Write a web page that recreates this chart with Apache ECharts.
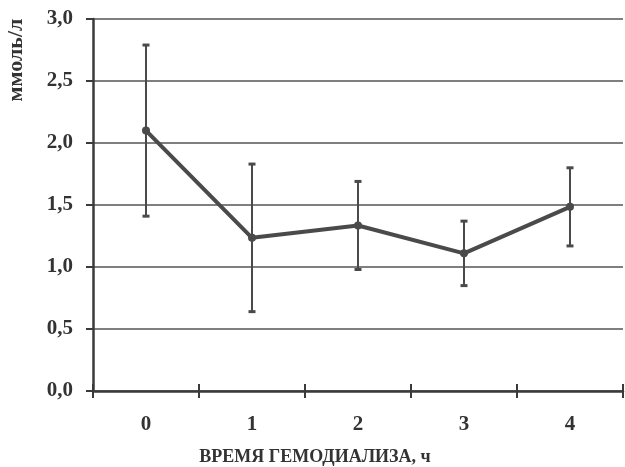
<!DOCTYPE html>
<html>
<head>
<meta charset="utf-8">
<script src="https://cdn.jsdelivr.net/npm/echarts@6/dist/echarts.min.js"></script>
<style>
  html, body { margin: 0; padding: 0; background: #ffffff; }
  #chart { width: 625px; height: 467px; }
</style>
</head>
<body>
<div id="chart"></div>
<script>
// Hours of haemodialysis
const hours = ['0', '1', '2', '3', '4'];
// Mean concentration, mmol/l
const meanValues = [2.10, 1.235, 1.335, 1.11, 1.485];
// Standard deviation, mmol/l
const sdValues = [0.69, 0.595, 0.355, 0.26, 0.315];
// Y axis ticks
const yTicks = [0, 0.5, 1.0, 1.5, 2.0, 2.5, 3.0];

const INK = '#3a3a3a';
const SERIF = '"Liberation Serif", "DejaVu Serif", serif';

const errorData = hours.map((h, i) => [i, meanValues[i] - sdValues[i], meanValues[i] + sdValues[i]]);

const chart = echarts.init(document.getElementById('chart'), null, { renderer: 'canvas' });

chart.setOption({
  backgroundColor: '#ffffff',
  animation: false,
  grid: { left: 93, right: 2, top: 19, bottom: 76, containLabel: false },
  xAxis: [
    {
      type: 'category',
      data: hours,
      boundaryGap: true,
      axisLine: { show: true, lineStyle: { color: INK, width: 2.5 } },
      axisTick: { show: true, length: 7, lineStyle: { color: INK, width: 2 } },
      axisLabel: { color: '#333', fontFamily: SERIF, fontWeight: 'bold', fontSize: 21, margin: 23 },
      splitLine: { show: false }
    },
    {
      type: 'category',
      data: hours,
      position: 'bottom',
      boundaryGap: true,
      axisLine: { show: false },
      axisTick: { show: true, inside: true, length: 7, lineStyle: { color: INK, width: 2 } },
      axisLabel: { show: false },
      splitLine: { show: false }
    }
  ],
  yAxis: {
    type: 'value',
    min: yTicks[0],
    max: yTicks[yTicks.length - 1],
    interval: 0.5,
    axisLine: { show: true, lineStyle: { color: INK, width: 2.5 } },
    axisTick: { show: true, length: 7, lineStyle: { color: INK, width: 2 } },
    axisLabel: {
      color: '#333', fontFamily: SERIF, fontWeight: 'bold', fontSize: 21, margin: 20,
      formatter: v => v.toFixed(1).replace('.', ',')
    },
    splitLine: { show: true, lineStyle: { color: '#555', width: 1.5 } }
  },
  graphic: [
    {
      type: 'text',
      x: 16, y: 60,
      rotation: Math.PI / 2,
      style: {
        text: 'ммоль/л',
        font: 'bold 22px ' + SERIF,
        fill: '#333',
        align: 'center',
        verticalAlign: 'middle'
      }
    },
    {
      type: 'text',
      x: 315, y: 457,
      style: {
        text: 'ВРЕМЯ ГЕМОДИАЛИЗА, ч',
        font: 'bold 18px ' + SERIF,
        fill: '#333',
        align: 'center',
        verticalAlign: 'middle'
      }
    }
  ],
  series: [
    {
      type: 'custom',
      name: 'sd',
      z: 3,
      data: errorData,
      renderItem: function (params, api) {
        const x = api.value(0);
        const top = api.coord([x, api.value(2)]);
        const bottom = api.coord([x, api.value(1)]);
        const capW = 7, capH = 3;
        const style = { stroke: '#4a4a4a', lineWidth: 2 };
        return {
          type: 'group',
          children: [
            { type: 'line', shape: { x1: top[0], y1: top[1], x2: bottom[0], y2: bottom[1] }, style: style },
            { type: 'rect', shape: { x: top[0] - capW / 2, y: top[1] - capH / 2, width: capW, height: capH }, style: { fill: '#4a4a4a' } },
            { type: 'rect', shape: { x: bottom[0] - capW / 2, y: bottom[1] - capH / 2, width: capW, height: capH }, style: { fill: '#4a4a4a' } }
          ]
        };
      }
    },
    {
      type: 'line',
      name: 'mean',
      z: 4,
      data: meanValues,
      symbol: 'circle',
      symbolSize: 8,
      itemStyle: { color: '#4a4a4a' },
      lineStyle: { color: '#4a4a4a', width: 4 }
    }
  ]
});
</script>
</body>
</html>
